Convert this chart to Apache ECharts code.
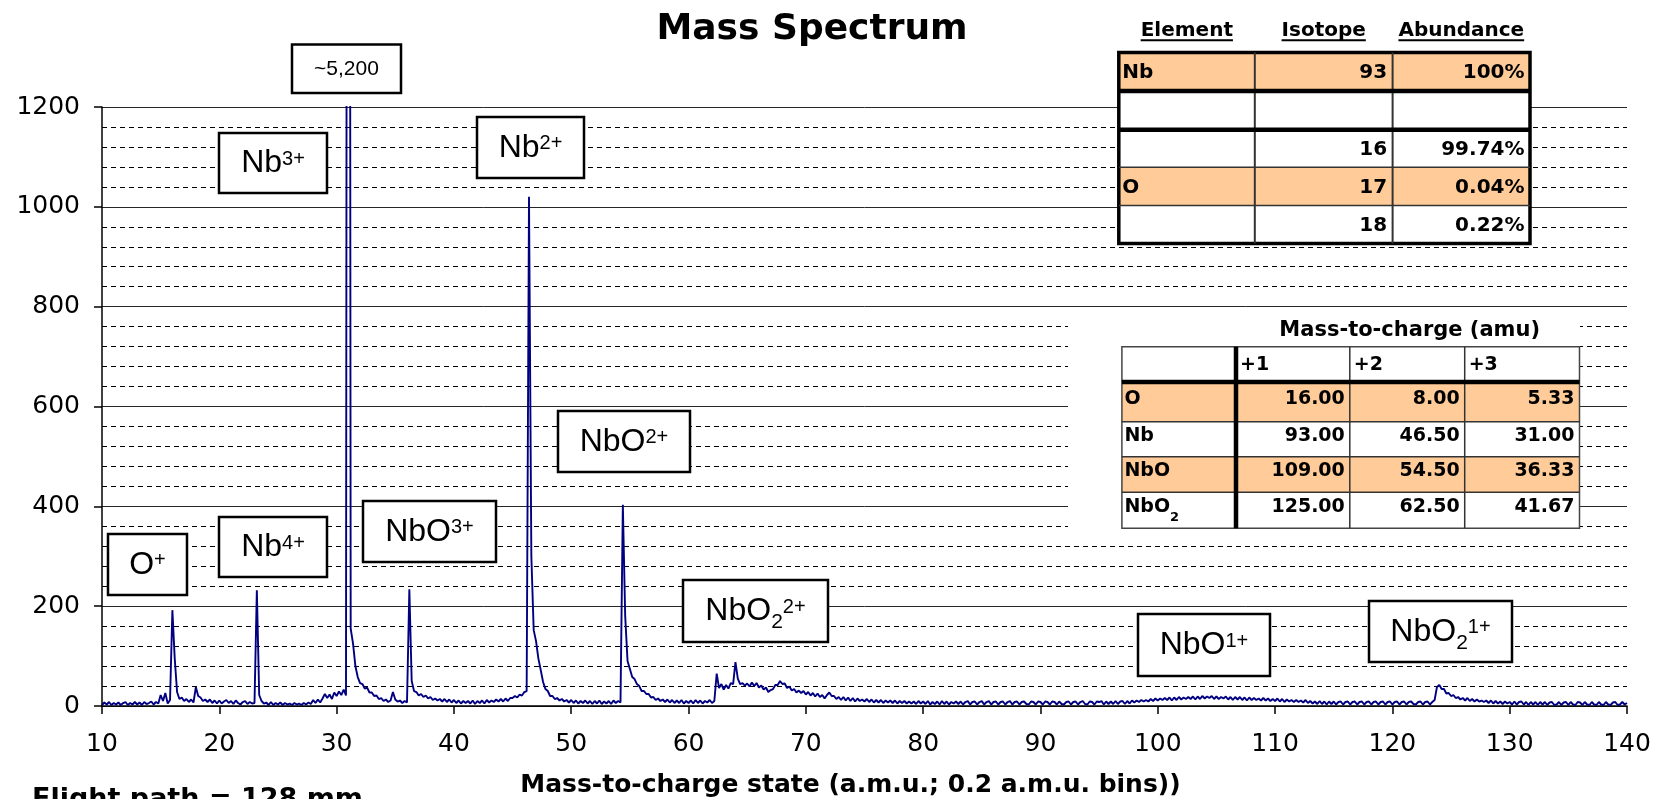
<!DOCTYPE html>
<html><head><meta charset="utf-8">
<script src="https://cdn.jsdelivr.net/npm/echarts@6/dist/echarts.min.js"></script>
<style>html,body{margin:0;padding:0;background:#fff}#main{width:1654px;height:799px}</style>
</head><body><div id="main"></div>
<script>
// ---------------- DATA ----------------
const binStart = 10;      // a.m.u.
const binWidth = 0.2;     // a.m.u. bins
// counts per 0.2 a.m.u. bin, one row per a.m.u. (x.0, x.2, x.4, x.6, x.8)
const intensity = [
  2,7,3,8,2,      // 10
  6,3,7,2,6,      // 11
  8,2,6,3,8,      // 12
  3,7,2,8,4,      // 13
  6,9,3,8,5,      // 14
  22,10,26,5,12,  // 15
  192,95,28,14,17,// 16
  10,14,8,13,7,   // 17
  38,20,17,10,13, // 18
  8,13,6,11,5,    // 19
  11,5,9,12,6,    // 20
  10,4,11,6,3,    // 21
  8,10,4,8,5,     // 22
  6,232,22,10,5,  // 23
  7,2,8,2,6,      // 24
  3,7,2,6,3,      // 25
  5,2,6,3,5,      // 26
  2,6,3,7,4,      // 27
  12,6,13,7,15,   // 28
  24,16,23,14,27, // 29
  20,29,22,33,21, // 30
  5200,155,125,80,58, // 31
  46,44,35,37,27, // 32
  27,20,21,14,16, // 33
  10,13,8,11,28,  // 34
  13,9,11,6,10,   // 35
  7,234,50,30,28, // 36
  21,24,18,21,15, // 37
  18,12,15,11,14, // 38
  9,14,8,13,7,    // 39
  12,6,11,5,10,   // 40
  6,10,5,11,4,    // 41
  10,6,11,5,12,   // 42
  7,11,8,13,9,    // 43
  14,9,15,10,16,  // 44
  16,20,17,23,21, // 45
  28,30,1020,300,152, // 46
  130,95,72,48,34,// 47
  30,20,20,14,16, // 48
  11,14,9,12,7,   // 49
  12,6,11,5,10,   // 50
  6,11,5,10,4,    // 51
  10,5,11,4,9,    // 52
  5,10,4,11,6,    // 53
  10,7,403,180,90,// 54
  74,58,54,44,40, // 55
  30,30,24,24,17, // 56
  18,12,15,10,13, // 57
  8,13,7,12,6,    // 58
  11,6,12,5,10,   // 59
  6,11,5,12,6,    // 60
  11,5,10,7,12,   // 61
  6,10,65,36,44,  // 62
  33,42,35,46,44, // 63
  88,55,44,46,41, // 64
  45,39,47,40,46, // 65
  37,41,33,37,28, // 66
  32,34,42,42,50, // 67
  44,45,36,39,31, // 68
  34,27,31,26,30, // 69
  23,28,21,26,19, // 70
  25,18,22,15,22, // 71
  27,20,20,14,18, // 72
  12,18,11,17,10, // 73
  16,9,15,10,13,  // 74
  9,14,8,13,7,    // 75
  12,7,12,6,11,   // 76
  7,11,6,11,5,    // 77
  10,6,10,5,9,    // 78
  5,9,4,10,5,     // 79
  9,4,10,3,8,     // 80
  4,9,3,10,4,     // 81
  9,3,8,5,9,      // 82
  4,9,3,8,10,     // 83
  3,8,9,3,8,      // 84
  10,3,8,10,3,    // 85
  8,9,3,8,9,      // 86
  3,8,10,3,8,     // 87
  9,3,8,9,4,      // 88
  3,9,8,3,9,      // 89
  8,3,9,8,3,      // 90
  9,8,3,9,4,      // 91
  3,8,9,3,8,      // 92
  9,3,8,10,4,     // 93
  3,9,8,3,9,      // 94
  8,10,3,9,4,     // 95
  9,4,10,4,9,     // 96
  10,4,10,5,11,   // 97
  7,11,8,12,9,    // 98
  12,9,14,10,15,  // 99
  11,15,12,16,12, // 100
  17,11,17,12,18, // 101
  13,17,14,18,14, // 102
  19,13,19,14,20, // 103
  15,19,16,20,14, // 104
  19,14,18,15,19, // 105
  13,18,12,18,13, // 106
  18,12,17,11,17, // 107
  12,16,12,15,11, // 108
  16,11,15,10,14, // 109
  10,15,9,14,8,   // 110
  13,9,12,8,12,   // 111
  8,11,7,12,6,    // 112
  10,5,9,4,10,    // 113
  4,9,3,9,4,      // 114
  9,3,8,9,3,      // 115
  8,9,3,8,9,      // 116
  3,8,9,3,8,      // 117
  9,3,8,9,3,      // 118
  8,9,3,8,9,      // 119
  3,8,9,3,8,      // 120
  9,3,8,9,4,      // 121
  3,8,9,3,8,      // 122
  9,3,8,12,38,    // 123
  42,34,34,25,26, // 124
  20,22,16,18,13, // 125
  16,11,16,10,14, // 126
  9,13,9,11,8,    // 127
  11,6,11,5,10,   // 128
  5,9,4,9,5,      // 129
  8,3,9,3,8,      // 130
  9,3,8,2,8,      // 131
  3,8,2,8,3,      // 132
  8,2,7,8,2,      // 133
  3,8,2,7,8,      // 134
  2,8,3,2,8,      // 135
  7,2,8,3,2,      // 136
  8,3,2,8,3,      // 137
  2,8,3,2,7,      // 138
  8,2,3,8,3,      // 139
  6               // 140
];

const chartTitle = 'Mass Spectrum';
const xAxisTitle = 'Mass-to-charge state (a.m.u.; 0.2 a.m.u. bins))';
const footNote = 'Flight path = 128 mm';
const offScaleNote = '~5,200';

// peak labels: [text, style] pieces ('n' normal, 'sup' superscript, 'sub' subscript)
const peakLabels = [
  [['O','n'],['+','sup']],
  [['Nb','n'],['4+','sup']],
  [['Nb','n'],['3+','sup']],
  [['NbO','n'],['3+','sup']],
  [['Nb','n'],['2+','sup']],
  [['NbO','n'],['2+','sup']],
  [['NbO','n'],['2','sub'],['2+','sup']],
  [['NbO','n'],['1+','sup']],
  [['NbO','n'],['2','sub'],['1+','sup']]
];

const isotopeHeader = ['Element', 'Isotope', 'Abundance'];
const isotopeRows = [
  ['Nb', '93', '100%'],
  ['', '', ''],
  ['', '16', '99.74%'],
  ['O', '17', '0.04%'],
  ['', '18', '0.22%']
];
const isotopeShaded = [true, false, false, true, false];

const mzTitle = 'Mass-to-charge (amu)';
const mzHeader = ['+1', '+2', '+3'];
const mzSpecies = [
  [['O','n']],
  [['Nb','n']],
  [['NbO','n']],
  [['NbO','n'],['2','sub']]
];
const mzValues = [
  ['16.00', '8.00', '5.33'],
  ['93.00', '46.50', '31.00'],
  ['109.00', '54.50', '36.33'],
  ['125.00', '62.50', '41.67']
];
const mzShaded = [true, false, true, false];

// ---------------- LAYOUT ----------------
const ORANGE = '#FFCC99';
const ctx = document.createElement('canvas').getContext('2d');
function textWidth(t, font) { ctx.font = font; return ctx.measureText(t).width; }
const els = [];
function addText(t, x, y, font, align) {
  els.push({type: 'text', z: 100, silent: true, style: {
    text: t, x: x, y: y, font: font, fill: '#000',
    textAlign: align || 'left', textVerticalAlign: 'middle', align: align || 'left', verticalAlign: 'middle'}});
}
function addRect(x0, y0, x1, y1, fill, stroke, lw) {
  els.push({type: 'rect', z: 100, silent: true,
    shape: {x: x0, y: y0, width: x1 - x0, height: y1 - y0},
    style: {fill: fill || 'none', stroke: stroke || 'none', lineWidth: lw || 0}});
}
function addLine(x1, y1, x2, y2, stroke, lw) {
  els.push({type: 'line', z: 101, silent: true, shape: {x1: x1, y1: y1, x2: x2, y2: y2},
    style: {stroke: stroke, lineWidth: lw}});
}
function addParts(parts, x, cy, spec, anchor) {
  let total = 0;
  const ws = parts.map(p => { const w = textWidth(p[0], spec[p[1]].font); total += w; return w; });
  let cur = anchor === 'center' ? x - total / 2 : x;
  parts.forEach((p, i) => {
    addText(p[0], cur, cy + spec[p[1]].dy, spec[p[1]].font, 'left');
    cur += ws[i];
  });
}

// title & notes
addText(chartTitle, 812, 29.5, 'bold 36px "DejaVu Sans"', 'center');
addText(footNote, 32, 800, 'bold 27px "DejaVu Sans"', 'left');

// off-scale note box
addRect(292, 44.5, 401, 93, '#fff', '#000', 2.5);
addText(offScaleNote, 346.5, 69, '21px "Liberation Sans"', 'center');

// peak label boxes
const boxes = [
  [108,534,187,595],[219,517,327,577],[219,133,327,193],[363,501,496,562],
  [477,117,584,178],[558,411,690,472],[683,580,828,642],[1138,614,1270,676],[1369,601,1512,662]
];
const labelSpec = {
  n:   {font: '32px "Liberation Sans"', dy: 0.5},
  sup: {font: '20px "Liberation Sans"', dy: -3.6},
  sub: {font: '21px "Liberation Sans"', dy: 11.5}
};
peakLabels.forEach((parts, i) => {
  const b = boxes[i];
  addRect(b[0], b[1], b[2], b[3], '#fff', '#000', 2.5);
  addParts(parts, (b[0] + b[2]) / 2, (b[1] + b[3]) / 2, labelSpec, 'center');
});

// isotope table
(function () {
  const cx = [1118.8, 1254.8, 1392.6, 1530];
  const ry = [52.5, 91, 129.7, 167.3, 205.5, 243.5];
  const hFont = 'bold 20px "DejaVu Sans"';
  const bFont = 'bold 20px "DejaVu Sans"';
  isotopeHeader.forEach((h, j) => {
    const mid = (cx[j] + cx[j + 1]) / 2;
    addText(h, mid, 30.5, hFont, 'center');
    const w = textWidth(h, hFont);
    addLine(mid - w / 2, 40.3, mid + w / 2, 40.3, '#000', 2);
  });
  isotopeRows.forEach((r, i) => {
    addRect(cx[0], ry[i], cx[3], ry[i + 1], isotopeShaded[i] ? ORANGE : '#fff');
  });
  addLine(cx[1], ry[0], cx[1], ry[5], '#333', 2);
  addLine(cx[2], ry[0], cx[2], ry[5], '#333', 2);
  addLine(cx[0], ry[1], cx[3], ry[1], '#000', 4.5);
  addLine(cx[0], ry[2], cx[3], ry[2], '#000', 4.5);
  addLine(cx[0], ry[3], cx[3], ry[3], '#333', 1.5);
  addLine(cx[0], ry[4], cx[3], ry[4], '#333', 1.5);
  addRect(cx[0], ry[0], cx[3], ry[5], null, '#000', 3.5);
  isotopeRows.forEach((r, i) => {
    const y = (ry[i] + ry[i + 1]) / 2 + 1.5;
    if (r[0]) addText(r[0], cx[0] + 3.5, y, bFont, 'left');
    if (r[1]) addText(r[1], cx[2] - 5.5, y, bFont, 'right');
    if (r[2]) addText(r[2], cx[3] - 5.5, y, bFont, 'right');
  });
})();

// mass-to-charge table
(function () {
  addRect(1068, 312, 1580, 530, '#fff');
  const cx = [1121.9, 1236, 1349.8, 1464.7, 1579.5];
  const ry = [346.7, 382, 421.7, 456.7, 492.3, 528.3];
  const font = 'bold 19px "DejaVu Sans"';
  addText(mzTitle, 1409.7, 331, 'bold 21px "DejaVu Sans"', 'center');
  addRect(cx[0], ry[0], cx[4], ry[1], '#fff');
  mzValues.forEach((r, i) => {
    addRect(cx[0], ry[i + 1], cx[4], ry[i + 2], mzShaded[i] ? ORANGE : '#fff');
  });
  [2, 3].forEach(j => addLine(cx[j], ry[0], cx[j], ry[5], '#333', 1.5));
  [2, 3, 4].forEach(i => addLine(cx[0], ry[i], cx[4], ry[i], '#333', 1.5));
  addRect(cx[0], ry[0], cx[4], ry[5], null, '#444', 1.5);
  addLine(cx[1], ry[0], cx[1], ry[5], '#000', 4.5);
  addLine(cx[0], ry[1], cx[4], ry[1], '#000', 4.5);
  mzHeader.forEach((h, j) => addText(h, cx[j + 1] + 4, 365, font, 'left'));
  const spec = {
    n:   {font: font, dy: 0},
    sub: {font: 'bold 13px "DejaVu Sans"', dy: 10.5}
  };
  mzValues.forEach((r, i) => {
    const y = (ry[i + 1] + ry[i + 2]) / 2 - 3;
    addParts(mzSpecies[i], cx[0] + 2.5, y, spec, 'left');
    r.forEach((v, j) => addText(v, cx[j + 2] - 5, y, font, 'right'));
  });
})();

// ---------------- CHART ----------------
const spectrum = intensity.map((v, i) => [Math.round((binStart + i * binWidth) * 10) / 10, v]);

const chart = echarts.init(document.getElementById('main'), null, {renderer: 'canvas'});
chart.setOption({
  animation: false,
  backgroundColor: '#fff',
  grid: {left: 102, right: 27, top: 107, bottom: 93, containLabel: false, outerBoundsMode: 'none'},
  xAxis: {
    type: 'value', min: 10, max: 140, interval: 10,
    axisLine: {show: true, onZero: false, lineStyle: {color: '#000', width: 1.5}},
    axisTick: {show: true, length: 8, lineStyle: {color: '#000', width: 1.5}},
    axisLabel: {fontFamily: 'DejaVu Sans', fontSize: 25, color: '#000', margin: 26},
    splitLine: {show: false},
    name: xAxisTitle, nameLocation: 'middle', nameGap: 67,
    nameTextStyle: {fontFamily: 'DejaVu Sans', fontWeight: 'bold', fontSize: 25, color: '#000', padding: [0, 28, 0, 0]}
  },
  yAxis: {
    type: 'value', min: 0, max: 1200, interval: 200,
    axisLine: {show: true, lineStyle: {color: '#000', width: 1.5}},
    axisTick: {show: true, length: 8, lineStyle: {color: '#000', width: 1.5}},
    axisLabel: {fontFamily: 'DejaVu Sans', fontSize: 25, color: '#000', margin: 22, formatter: v => String(v)},
    splitLine: {show: true, lineStyle: {color: '#262626', width: 1}},
    minorTick: {show: false, splitNumber: 5},
    minorSplitLine: {show: true, lineStyle: {color: '#000', width: 1, type: [5, 4]}}
  },
  series: [{
    type: 'line', data: spectrum, symbol: 'none', showSymbol: false, clip: true,
    silent: true, sampling: null,
    lineStyle: {color: '#000080', width: 1.9}
  }],
  graphic: {elements: els}
});
</script></body></html>
